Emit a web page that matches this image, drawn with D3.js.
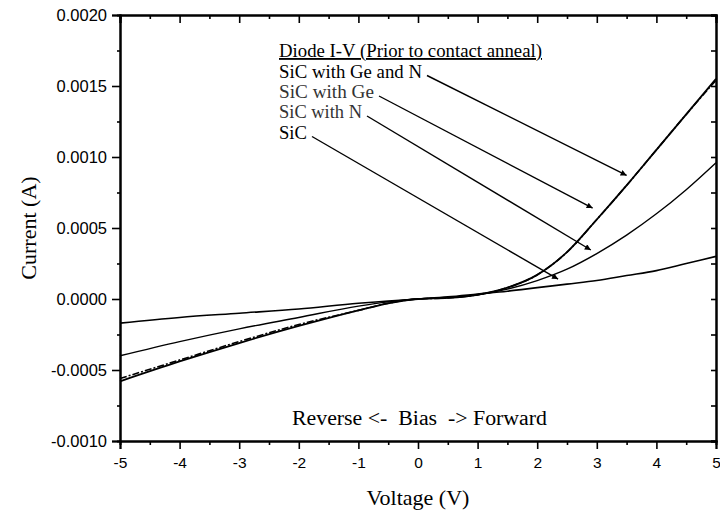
<!DOCTYPE html>
<html>
<head>
<meta charset="utf-8">
<script src="https://cdn.jsdelivr.net/npm/d3@7"></script>
<style>
  body { margin: 0; background: #fff; }
  svg { display: block; }
</style>
</head>
<body>
<svg width="720" height="510"></svg>
<script>
// voltages (V) shared by all curves
const voltage = [-5, -4, -3, -2, -1, -0.5, 0, 0.5, 1, 1.5, 2, 2.5, 3, 3.5, 4, 4.5, 5];

// current (A)
const sicGeN = [-0.00058, -0.00044, -0.00031, -0.00019, -0.00008, -0.00003, 0, 0.000008, 0.00003, 0.00008, 0.00017, 0.00033, 0.00056, 0.0008, 0.00105, 0.0013, 0.00155];
const sicGe  = [-0.00056, -0.00043, -0.00030, -0.00018, -0.00008, -0.00003, 0, 0.000008, 0.00003, 0.00008, 0.00017, 0.00033, 0.00056, 0.0008, 0.00105, 0.0013, 0.00154];
const sicN   = [-0.00040, -0.00030, -0.00021, -0.00013, -0.00005, -0.00002, 0, 0.00001, 0.00003, 0.00007, 0.00013, 0.00021, 0.00032, 0.00045, 0.0006, 0.00077, 0.00096];
const sic    = [-0.00017, -0.00013, -0.00010, -0.00007, -0.00003, -0.000015, 0, 0.000015, 0.000035, 0.000055, 0.00008, 0.000105, 0.00013, 0.000165, 0.0002, 0.00025, 0.0003];

const xTicks = [-5, -4, -3, -2, -1, 0, 1, 2, 3, 4, 5];
const yTicks = [-0.001, -0.0005, 0, 0.0005, 0.001, 0.0015, 0.002];

const legendLabels = ['SiC with Ge and N', 'SiC with Ge', 'SiC with N', 'SiC'];
// arrow tips in data units (V, A)
const arrowTips = [[3.5, 0.00087], [2.93, 0.00064], [2.9, 0.000345], [2.35, 0.00014]];

const svg = d3.select('svg');
const margin = { top: 15, left: 120, right: 4, bottom: 69 };
const W = +svg.attr('width'), H = +svg.attr('height');
const innerW = W - margin.left - margin.right;
const innerH = H - margin.top - margin.bottom;

const x = d3.scaleLinear().domain([-5, 5]).range([0, innerW]);
const y = d3.scaleLinear().domain([-0.001, 0.002]).range([innerH, 0]);

const g = svg.append('g').attr('transform', `translate(${margin.left},${margin.top})`);

// plain hyphen for the minus sign, like the original
const loc = d3.formatLocale({ decimal: '.', thousands: ',', grouping: [3], currency: ['', ''], minus: '-' });
const fmtY = loc.format('.4f');
const fmtX = loc.format('d');
const tickFont = 'Liberation Sans, Arial, sans-serif';

// minor ticks
const xMinor = d3.range(-4.5, 5, 1);
const yMinor = d3.range(-0.00075, 0.002, 0.0005);

g.append('g').attr('transform', `translate(0,${innerH})`)
  .call(d3.axisBottom(x).tickValues(xMinor).tickSize(4).tickFormat(''));
g.append('g')
  .call(d3.axisTop(x).tickValues(xMinor).tickSize(-4).tickFormat(''));
g.append('g')
  .call(d3.axisLeft(y).tickValues(yMinor).tickSize(3).tickFormat(''));
g.append('g').attr('transform', `translate(${innerW},0)`)
  .call(d3.axisRight(y).tickValues(yMinor).tickSize(-5).tickFormat(''));

// major axes
g.append('g').attr('class', 'xa').attr('transform', `translate(0,${innerH})`)
  .call(d3.axisBottom(x).tickValues(xTicks).tickSize(8).tickPadding(8).tickFormat(fmtX));
g.append('g').attr('class', 'ya')
  .call(d3.axisLeft(y).tickValues(yTicks).tickSize(8).tickPadding(5).tickFormat(fmtY));
g.append('g')
  .call(d3.axisTop(x).tickValues(xTicks).tickSize(-8).tickFormat(''));
g.append('g').attr('transform', `translate(${innerW},0)`)
  .call(d3.axisRight(y).tickValues(yTicks).tickSize(-5).tickFormat(''));

g.selectAll('.domain').attr('stroke-width', 2).attr('stroke', '#000');
g.selectAll('.tick line').attr('stroke-width', 1.6).attr('stroke', '#000');
g.selectAll('.tick text').attr('font-family', tickFont).attr('fill', '#000');
g.selectAll('.xa .tick text').attr('font-size', 15.5);
g.selectAll('.ya .tick text').attr('font-size', 16.5);

// curves
const line = d3.line()
  .x((d, i) => x(voltage[i]))
  .y(d => y(d))
  .curve(d3.curveMonotoneX);

g.append('path').datum(sic).attr('d', line)
  .attr('fill', 'none').attr('stroke', '#000').attr('stroke-width', 1.6);
g.append('path').datum(sicN).attr('d', line)
  .attr('fill', 'none').attr('stroke', '#000').attr('stroke-width', 1.4);
g.append('path').datum(sicGeN).attr('d', line)
  .attr('fill', 'none').attr('stroke', '#000').attr('stroke-width', 1.8);
g.append('path').datum(sicGe).attr('d', line)
  .attr('fill', 'none').attr('stroke', '#000').attr('stroke-width', 1.6)
  .attr('stroke-dasharray', '7,2,2,2');

// annotation
const serif = 'Liberation Serif, Times New Roman, serif';
const ann = svg.append('g').attr('font-family', serif).attr('fill', '#000');
ann.append('text').attr('x', 279).attr('y', 57).attr('font-size', 18.5)
  .attr('text-decoration', 'underline')
  .attr('textLength', 263).attr('lengthAdjust', 'spacingAndGlyphs')
  .text('Diode I-V (Prior to contact anneal)');

const rowY = [77.5, 98, 118, 138.5];
const rowW = [143, 95, 83, 28];
const rowColor = ['#000', '#333', '#333', '#000'];
const labels = ann.selectAll('.lbl').data(legendLabels).enter().append('text')
  .attr('x', 279).attr('y', (d, i) => rowY[i])
  .attr('font-size', 18.5)
  .attr('fill', (d, i) => rowColor[i])
  .attr('textLength', (d, i) => rowW[i]).attr('lengthAdjust', 'spacingAndGlyphs')
  .text(d => d);

svg.append('defs').append('marker')
  .attr('id', 'arr').attr('viewBox', '0 0 10 10')
  .attr('refX', 10).attr('refY', 5)
  .attr('markerWidth', 10).attr('markerHeight', 6)
  .attr('markerUnits', 'userSpaceOnUse')
  .attr('orient', 'auto')
  .append('path').attr('d', 'M0,0 L10,5 L0,10 Z').attr('fill', '#000');

labels.each(function (d, i) {
  const x0 = 279 + rowW[i] + 5;
  const y0 = rowY[i] - 2;
  g.append('line')
    .attr('x1', x0 - margin.left).attr('y1', y0 - margin.top)
    .attr('x2', x(arrowTips[i][0])).attr('y2', y(arrowTips[i][1]))
    .attr('stroke', '#000').attr('stroke-width', 1.4)
    .attr('marker-end', 'url(#arr)');
});

svg.append('text').attr('x', 292).attr('y', 425)
  .attr('font-family', serif).attr('font-size', 20)
  .attr('xml:space', 'preserve')
  .style('white-space', 'pre')
  .attr('textLength', 255).attr('lengthAdjust', 'spacingAndGlyphs')
  .text('Reverse <-  Bias  -> Forward');

// axis titles
svg.append('text').attr('x', margin.left + innerW / 2).attr('y', 505)
  .attr('text-anchor', 'middle').attr('font-family', serif).attr('font-size', 22)
  .text('Voltage (V)');
svg.append('text')
  .attr('transform', `translate(36,${margin.top + innerH / 2}) rotate(-90)`)
  .attr('text-anchor', 'middle').attr('font-family', serif).attr('font-size', 22)
  .text('Current (A)');
</script>
</body>
</html>
